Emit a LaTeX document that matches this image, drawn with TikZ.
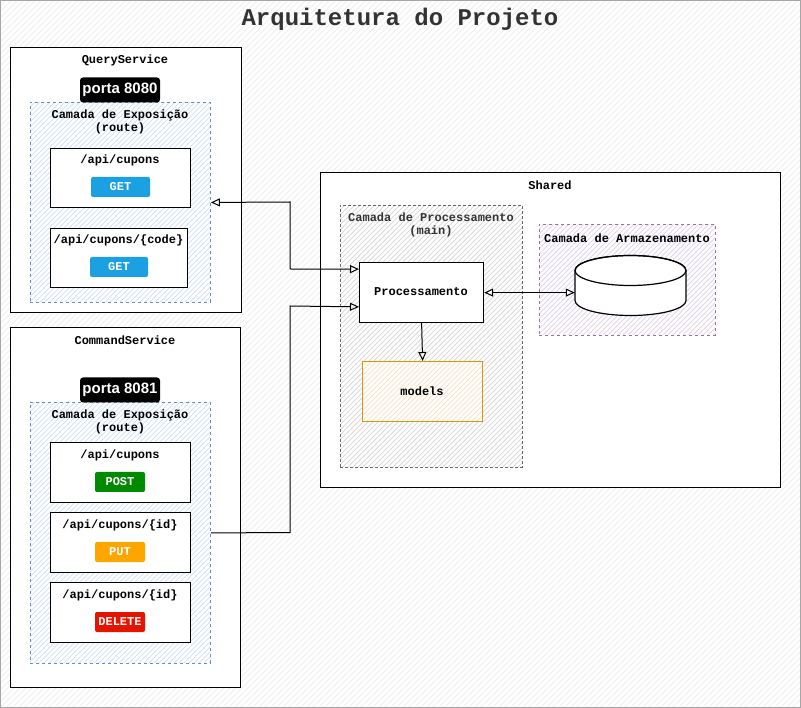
\documentclass[tikz,border=0pt]{standalone}
\usepackage{fontspec}
\setmainfont{Liberation Sans}
\setsansfont{Liberation Sans}
\setmonofont{Liberation Mono}
\usetikzlibrary{arrows.meta,calc}
\definecolor{hatchbg}{HTML}{EEEEEE}
\definecolor{bluehatch}{HTML}{D4E2F5}
\definecolor{bluestroke}{HTML}{6C8EBF}
\definecolor{grayhatch}{HTML}{DADADA}
\definecolor{grayst}{HTML}{666666}
\definecolor{orhatch}{HTML}{FBE3C8}
\definecolor{orstroke}{HTML}{D79B00}
\definecolor{puhatch}{HTML}{E2D6EA}
\definecolor{pustroke}{HTML}{9673A6}
\definecolor{getc}{HTML}{1BA1E2}
\definecolor{postc}{HTML}{008A00}
\definecolor{putc}{HTML}{FFA500}
\definecolor{delc}{HTML}{E51400}
\definecolor{txt}{HTML}{333333}
% \hatchrect{x1}{y1}{x2}{y2}{colour}{spacing}
\newcommand{\hatchrect}[6]{%
  \begin{scope}
    \clip (#1,#2) rectangle (#3,#4);
    \pgfmathsetmacro{\hH}{#4-#2}%
    \pgfmathsetmacro{\hS}{#1-\hH}%
    \pgfmathsetmacro{\hN}{#1-\hH+#6}%
    \foreach \hx in {\hS,\hN,...,#3} {
      \draw[#5, line width=1pt] (\hx,#4) -- ++(\hH,-\hH);
    }
  \end{scope}}
\begin{document}
\begin{tikzpicture}[x=1pt,y=-1pt,
  mono/.style={font=\ttfamily\bfseries\fontsize{12}{13.5}\selectfont, text=black, align=center, inner sep=0pt},
  box/.style={draw=black, line width=1.2pt, anchor=north west, inner sep=0pt},
  dbox/.style={draw=#1, dashed, line width=0.9pt, anchor=north west, inner sep=0pt},
  badge/.style={rounded corners=3pt, inner sep=0pt, text=white, font=\sffamily\bfseries\fontsize{15}{16}\selectfont},
  meth/.style={rounded corners=2pt, inner sep=0pt, text=white, minimum height=20pt, font=\ttfamily\bfseries\fontsize{12}{13}\selectfont},
  conn/.style={draw=black, line width=1pt},
  >={Triangle[open,length=9pt,width=8pt,line width=1pt]}
]
\useasboundingbox (0,0) rectangle (801,708);
% background
\fill[white] (0,0) rectangle (801,708);
\hatchrect{0}{0}{800}{707}{hatchbg}{6}
\node[anchor=north west, minimum width=800pt, minimum height=707pt, inner sep=0pt, draw=gray!70, line width=1pt] (bg) at (0,0) {};
\node[font=\ttfamily\bfseries\fontsize{24}{26}\selectfont, text=txt] (title) at (400,19) {Arquitetura do Projeto};

% QueryService
\fill[white] (10,47) rectangle (241,312);
\node[box, minimum width=231pt, minimum height=265pt] (qs) at (10,47) {};
\node[mono] (qsl) at (125,60) {QueryService};
\hatchrect{30}{102}{210}{302}{bluehatch}{5}
\node[dbox=bluestroke, minimum width=180pt, minimum height=200pt] (qexp) at (30,102) {};
\node[badge, fill=black, minimum width=80pt, minimum height=25pt] (p8080) at (120,90) {porta 8080};
\node[mono] (qexpl) at (120,122) {Camada de Exposição\\(route)};
\node[box, fill=white, minimum width=140pt, minimum height=59pt] (q1) at (50,148) {};
\node[mono] (q1l) at (120,160) {/api/cupons};
\node[meth, fill=getc, minimum width=59pt] (q1m) at (120.5,187) {GET};
\node[box, fill=white, minimum width=137pt, minimum height=59pt] (q2) at (50,228) {};
\node[mono] (q2l) at (118.5,240) {/api/cupons/\{code\}};
\node[meth, fill=getc, minimum width=58pt] (q2m) at (119,267) {GET};

% CommandService
\fill[white] (10,327) rectangle (240,687);
\node[box, minimum width=230pt, minimum height=360pt] (cs) at (10,327) {};
\node[mono] (csl) at (125,340) {CommandService};
\hatchrect{30}{402}{210}{663}{bluehatch}{5}
\node[dbox=bluestroke, minimum width=180pt, minimum height=261pt] (cexp) at (30,402) {};
\node[badge, fill=black, minimum width=80pt, minimum height=25pt] (p8081) at (120,390) {porta 8081};
\node[mono] (cexpl) at (120,422) {Camada de Exposição\\(route)};
\node[box, fill=white, minimum width=140pt, minimum height=60pt] (c1) at (50,442) {};
\node[mono] (c1l) at (120,455) {/api/cupons};
\node[meth, fill=postc, minimum width=50pt] (c1m) at (120,482) {POST};
\node[box, fill=white, minimum width=140pt, minimum height=60pt] (c2) at (50,512) {};
\node[mono] (c2l) at (120,525) {/api/cupons/\{id\}};
\node[meth, fill=putc, minimum width=50pt] (c2m) at (120,552) {PUT};
\node[box, fill=white, minimum width=140pt, minimum height=60pt] (c3) at (50,582) {};
\node[mono] (c3l) at (120,595) {/api/cupons/\{id\}};
\node[meth, fill=delc, minimum width=50pt] (c3m) at (120,622) {DELETE};

% Shared
\fill[white] (320,172) rectangle (780,487);
\node[box, minimum width=460pt, minimum height=315pt] (sh) at (320,172) {};
\node[mono] (shl) at (550,185) {Shared};
\hatchrect{340}{205}{522}{467}{grayhatch}{5}
\node[dbox=grayst, densely dashed, minimum width=182pt, minimum height=262pt] (pl) at (340,205) {};
\node[mono, text=txt] (pll) at (431,225) {Camada de Processamento\\(main)};
\node[box, fill=white, minimum width=124pt, minimum height=60pt] (proc) at (359,262) {};
\node[mono] (procl) at (421,292) {Processamento};
\fill[white] (362,361) rectangle (482,421);
\hatchrect{362}{361}{482}{421}{orhatch}{5}
\node[draw=orstroke, line width=1.2pt, anchor=north west, inner sep=0pt, minimum width=120pt, minimum height=60pt] (models) at (362,361) {};
\node[mono] (modelsl) at (422,391) {models};
\hatchrect{539}{224}{715}{335}{puhatch}{5}
\node[dbox=pustroke, minimum width=176pt, minimum height=111pt] (al) at (539,224) {};
\node[mono] (all) at (627,238) {Camada de Armazenamento};
% cylinder
\node[inner sep=0pt, minimum width=111pt, minimum height=60pt] (db) at (630.5,285.5) {};
\begin{scope}[shift={(db.center)}, x=1pt, y=1pt]
  \filldraw[fill=white, draw=black, line width=1.2pt]
    (-55.5,15) -- (-55.5,-15) arc[start angle=180, end angle=360, x radius=55.5, y radius=15]
    -- (55.5,15) arc[start angle=0, end angle=180, x radius=55.5, y radius=15] -- cycle;
  \draw[black, line width=1.2pt] (0,15) ellipse [x radius=55.5, y radius=15];
\end{scope}

% connectors
\draw[conn, <->] (qexp.east) -- (290,202) -- (290,269) -- ($(proc.north west)!0.117!(proc.south west)$);
\draw[conn, ->] (cexp.east) -- (290,532.5) -- (290,306) -- ($(proc.north west)!0.733!(proc.south west)$);
\draw[conn, <->] (proc.east) -- (proc.east -| db.west);
\draw[conn, ->] (proc.south) -- (models.north);
\end{tikzpicture}
\end{document}
